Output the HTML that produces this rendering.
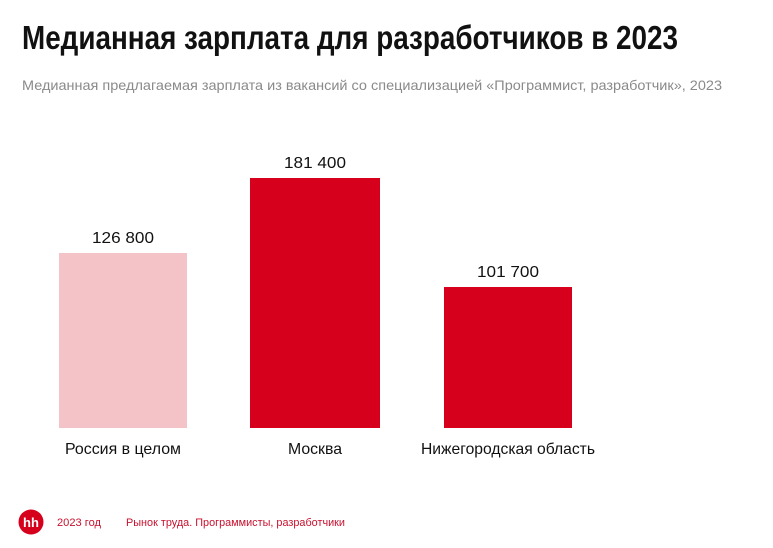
<!DOCTYPE html>
<html><head><meta charset="utf-8"><style>
html,body{margin:0;padding:0;background:#fff;}
svg{display:block;}
</style></head><body>
<svg width="773" height="548" xmlns="http://www.w3.org/2000/svg" font-family="Liberation Sans, sans-serif">
<rect width="773" height="548" fill="#fff"/>
<text x="22" y="49" font-size="33" font-weight="bold" fill="#111" textLength="656" lengthAdjust="spacingAndGlyphs">Медианная зарплата для разработчиков в 2023</text>
<text x="22" y="90" font-size="14" fill="#8a8a8a" textLength="700" lengthAdjust="spacingAndGlyphs">Медианная предлагаемая зарплата из вакансий со специализацией «Программист, разработчик», 2023</text>
<rect x="59" y="253" width="128" height="175" fill="#f4c3c8"/>
<rect x="250" y="178" width="130" height="250" fill="#d6001c"/>
<rect x="444" y="287" width="128" height="141" fill="#d6001c"/>
<g font-size="16" fill="#111" text-anchor="middle">
<text x="123" y="243" textLength="62" lengthAdjust="spacingAndGlyphs">126 800</text>
<text x="315" y="168" textLength="62" lengthAdjust="spacingAndGlyphs">181 400</text>
<text x="508" y="277" textLength="62" lengthAdjust="spacingAndGlyphs">101 700</text>
<text x="123" y="454" textLength="116" lengthAdjust="spacingAndGlyphs">Россия в целом</text>
<text x="315" y="454" textLength="54" lengthAdjust="spacingAndGlyphs">Москва</text>
<text x="508" y="454" textLength="174" lengthAdjust="spacingAndGlyphs">Нижегородская область</text>
</g>
<circle cx="31" cy="522" r="12.5" fill="#d6001c"/>
<text x="31" y="527" font-size="13" font-weight="bold" fill="#fff" text-anchor="middle">hh</text>
<text x="57" y="526" font-size="11" fill="#c8102e" textLength="44" lengthAdjust="spacingAndGlyphs">2023 год</text>
<text x="126" y="526" font-size="11" fill="#c8102e" textLength="219" lengthAdjust="spacingAndGlyphs">Рынок труда. Программисты, разработчики</text>
</svg>
</body></html>
